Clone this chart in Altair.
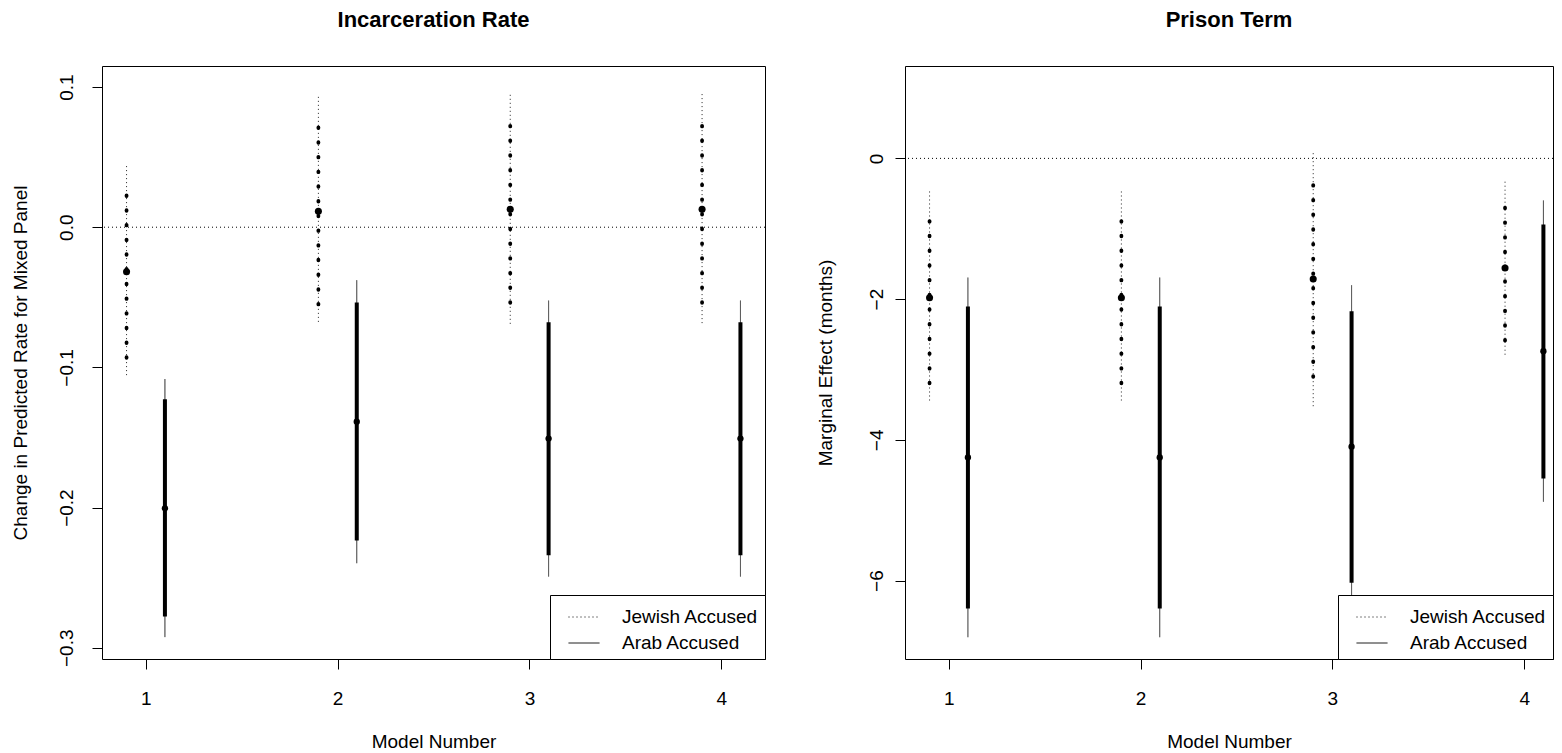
import altair as alt
import pandas as pd

models = [1, 2, 3, 4]
groups = ["Jewish Accused", "Arab Accused"]

# Panel 1: Incarceration Rate
inc_jew_est = [-0.0318, 0.0114, 0.0128, 0.0128]
inc_jew_lo95 = [-0.1055, -0.0675, -0.0689, -0.0684]
inc_jew_hi95 = [0.0442, 0.0936, 0.0950, 0.0950]
inc_jew_lo90 = [-0.0931, -0.0551, -0.0539, -0.0539]
inc_jew_hi90 = [0.0316, 0.0794, 0.0810, 0.0810]
inc_arab_est = [-0.2005, -0.1387, -0.1508, -0.1508]
inc_arab_lo95 = [-0.2924, -0.2397, -0.2492, -0.2492]
inc_arab_hi95 = [-0.1083, -0.0378, -0.0523, -0.0523]
inc_arab_lo90 = [-0.2777, -0.2235, -0.2340, -0.2340]
inc_arab_hi90 = [-0.1228, -0.0537, -0.0677, -0.0677]

# Panel 2: Prison Term
pt_jew_est = [-1.981, -1.981, -1.715, -1.558]
pt_jew_lo95 = [-3.441, -3.441, -3.522, -2.790]
pt_jew_hi95 = [-0.467, -0.467, 0.087, -0.309]
pt_jew_lo90 = [-3.197, -3.197, -3.104, -2.589]
pt_jew_hi90 = [-0.722, -0.722, -0.212, -0.521]
pt_arab_est = [-4.250, -4.250, -4.098, -2.741]
pt_arab_lo95 = [-6.806, -6.806, -6.383, -4.879]
pt_arab_hi95 = [-1.693, -1.693, -1.802, -0.597]
pt_arab_lo90 = [-6.399, -6.399, -6.030, -4.548]
pt_arab_hi90 = [-2.106, -2.106, -2.171, -0.939]

inc_ticks = [-0.3, -0.2, -0.1, 0.0, 0.1]
pt_ticks = [-6, -4, -2, 0]


def frame(j_est, j_lo95, j_hi95, j_lo90, j_hi90, a_est, a_lo95, a_hi95, a_lo90, a_hi90):
    rows = []
    for i, m in enumerate(models):
        rows.append(dict(x=m - 0.1, group=groups[0], est=j_est[i], lo95=j_lo95[i],
                         hi95=j_hi95[i], lo90=j_lo90[i], hi90=j_hi90[i]))
        rows.append(dict(x=m + 0.1, group=groups[1], est=a_est[i], lo95=a_lo95[i],
                         hi95=a_hi95[i], lo90=a_lo90[i], hi90=a_hi90[i]))
    return pd.DataFrame(rows)


def panel(df, title, ytitle, ydom, yvals, yfmt, lp, tp, width, xmax):
    xscale = alt.Scale(domain=[0.772, xmax], nice=False, zero=False)
    xaxis = alt.Axis(values=models, format="d", title="Model Number",
                     labelPadding=20, titlePadding=24)
    yscale = alt.Scale(domain=ydom, nice=False, zero=False)
    yaxis = alt.Axis(values=yvals, format=yfmt, title=ytitle, labelAngle=270,
                     labelPadding=lp, titlePadding=tp)

    def X(f):
        return alt.X(f, type="quantitative", scale=xscale, axis=xaxis)

    def Y(f):
        return alt.Y(f, type="quantitative", scale=yscale, axis=yaxis)

    base = alt.Chart(df)
    zero = alt.Chart(pd.DataFrame({"z": [0.0]})).mark_rule(
        strokeDash=[1, 3], strokeWidth=1, color="black").encode(y=Y("z"))
    outer = base.mark_rule(strokeWidth=1, color="#222222").encode(
        x=X("x"), y=Y("lo95"), y2="hi95",
        strokeDash=alt.StrokeDash(
            "group:N",
            scale=alt.Scale(domain=groups, range=[[1, 3], [1, 0]]),
            legend=alt.Legend(title=None),
        ),
    )
    inner_j = base.transform_filter(alt.datum.group == groups[0]).mark_rule(
        strokeWidth=3.8, strokeDash=[0.6, 14.1], strokeCap="round", color="black").encode(
        x=X("x"), y=Y("lo90"), y2="hi90")
    inner_a = base.transform_filter(alt.datum.group == groups[1]).mark_rule(
        strokeWidth=4, color="black").encode(x=X("x"), y=Y("lo90"), y2="hi90")
    pt_j = base.transform_filter(alt.datum.group == groups[0]).mark_circle(
        size=50, color="black", opacity=1).encode(x=X("x"), y=Y("est"))
    pt_a = base.transform_filter(alt.datum.group == groups[1]).mark_circle(
        size=40, color="black", opacity=1).encode(x=X("x"), y=Y("est"))
    return alt.layer(zero, outer, inner_j, inner_a, pt_j, pt_a).properties(
        width=width, height=593, title=title)


left = panel(frame(inc_jew_est, inc_jew_lo95, inc_jew_hi95, inc_jew_lo90, inc_jew_hi90,
                   inc_arab_est, inc_arab_lo95, inc_arab_hi95, inc_arab_lo90, inc_arab_hi90),
             "Incarceration Rate", "Change in Predicted Rate for Mixed Panel",
             [-0.308, 0.115], inc_ticks, ".1f", 16, 27, 663, 4.228)
right = panel(frame(pt_jew_est, pt_jew_lo95, pt_jew_hi95, pt_jew_lo90, pt_jew_hi90,
                    pt_arab_est, pt_arab_lo95, pt_arab_hi95, pt_arab_lo90, pt_arab_hi90),
              "Prison Term", "Marginal Effect (months)",
              [-7.115, 1.313], pt_ticks, "d", 9, 32, 648, 4.150)

chart = (
    alt.hconcat(left, right, spacing=49)
    .resolve_scale(strokeDash="independent")
    .resolve_legend(strokeDash="independent")
    .properties(padding={"left": 2, "top": 0, "right": 0, "bottom": 0},
                background="white")
    .configure(font="Liberation Sans")
    .configure_view(stroke="black", strokeWidth=1)
    .configure_axis(tickSize=10, tickColor="black", tickWidth=1, domain=False, grid=False,
                    labelFontSize=19, titleFontSize=19, titleFontWeight="normal",
                    labelColor="black", titleColor="black", labelFont="Liberation Sans",
                    titleFont="Liberation Sans")
    .configure_title(fontSize=22, fontWeight="bold", anchor="middle", offset=34,
                     color="black", font="Liberation Sans")
    .configure_legend(orient="bottom-right", offset=0, padding=6, strokeColor="black",
                      fillColor="white", symbolType="stroke", symbolSize=961,
                      symbolStrokeWidth=1, symbolStrokeColor="black", labelFontSize=19,
                      labelColor="black", labelOffset=22, rowPadding=0, symbolOffset=12,
                      cornerRadius=0, labelLimit=400, labelFont="Liberation Sans")
)

chart.save("out.html", embed_options={"renderer": "svg", "actions": False})
